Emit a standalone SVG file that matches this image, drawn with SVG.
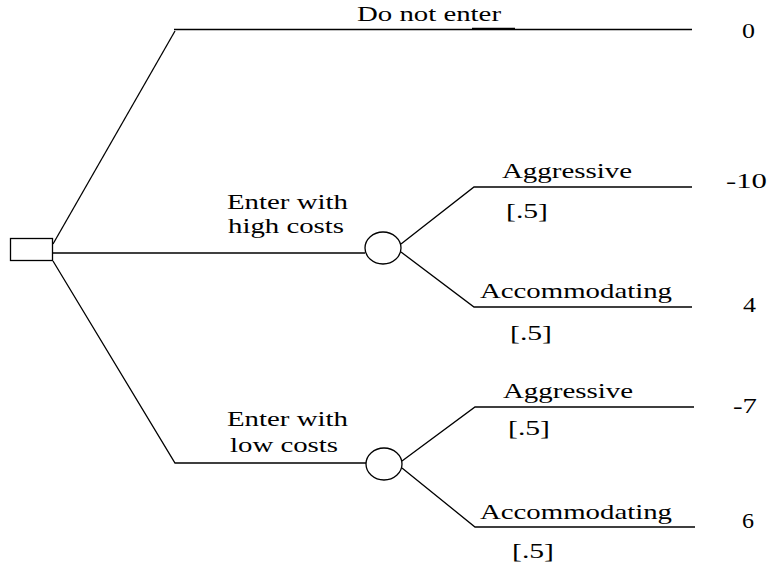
<svg xmlns="http://www.w3.org/2000/svg" width="770" height="567" viewBox="0 0 770 567">
  <style>
    .edge { fill: none; stroke: #000; stroke-width: 1.3; }
    .node { fill: #fff; stroke: #000; stroke-width: 1.3; }
    text { font-family: "Liberation Serif", "Times New Roman", serif; font-size: 22px; fill: #000; }
  </style>
  <rect width="770" height="567" fill="#fff"/>

  <!-- branches of the tree -->
  <g id="connectors">
    <path class="edge" d="M53,244 L175,31"/>
    <path class="edge" d="M174,29.5 H692"/>
    <path class="edge" d="M472,28.5 H515" stroke-width="2"/>
    <path class="edge" d="M53,253 H365"/>
    <path class="edge" d="M53,261 L175,463 H366"/>
    <path class="edge" d="M401,244 L474,187 H692"/>
    <path class="edge" d="M401,252 L474,307 H692"/>
    <path class="edge" d="M402,461 L475,407 H694"/>
    <path class="edge" d="M402,468 L475,527 H695"/>
  </g>

  <!-- entrant's decision -->
  <g id="decision">
    <rect class="node" x="10.5" y="238.5" width="42" height="22"/>
  </g>

  <g id="chance-high">
    <ellipse class="node" cx="383" cy="248" rx="18" ry="16"/>
  </g>

  <g id="chance-low">
    <ellipse class="node" cx="384" cy="464" rx="18" ry="16"/>
  </g>

  <!-- labels -->
  <g id="labels">
    <text x="357" y="21" textLength="144" lengthAdjust="spacingAndGlyphs">Do not enter</text>
    <text x="742" y="38" textLength="13" lengthAdjust="spacingAndGlyphs">0</text>

    <text x="227" y="209" textLength="121" lengthAdjust="spacingAndGlyphs">Enter with</text>
    <text x="228" y="233" textLength="116" lengthAdjust="spacingAndGlyphs">high costs</text>

    <text x="502" y="178" textLength="130" lengthAdjust="spacingAndGlyphs">Aggressive</text>
    <text x="506" y="218" textLength="42" lengthAdjust="spacingAndGlyphs">[.5]</text>
    <text x="726" y="188" textLength="41" lengthAdjust="spacingAndGlyphs">-10</text>
    <text x="480" y="298" textLength="192" lengthAdjust="spacingAndGlyphs">Accommodating</text>
    <text x="510" y="340" textLength="42" lengthAdjust="spacingAndGlyphs">[.5]</text>
    <text x="743" y="312" textLength="13" lengthAdjust="spacingAndGlyphs">4</text>

    <text x="227" y="426" textLength="121" lengthAdjust="spacingAndGlyphs">Enter with</text>
    <text x="230" y="452" textLength="108" lengthAdjust="spacingAndGlyphs">low costs</text>

    <text x="503" y="398" textLength="130" lengthAdjust="spacingAndGlyphs">Aggressive</text>
    <text x="508" y="435" textLength="42" lengthAdjust="spacingAndGlyphs">[.5]</text>
    <text x="733" y="413" textLength="24" lengthAdjust="spacingAndGlyphs">-7</text>
    <text x="480" y="519" textLength="192" lengthAdjust="spacingAndGlyphs">Accommodating</text>
    <text x="512" y="558" textLength="42" lengthAdjust="spacingAndGlyphs">[.5]</text>
    <text x="742" y="528" textLength="12" lengthAdjust="spacingAndGlyphs">6</text>
  </g>
</svg>
